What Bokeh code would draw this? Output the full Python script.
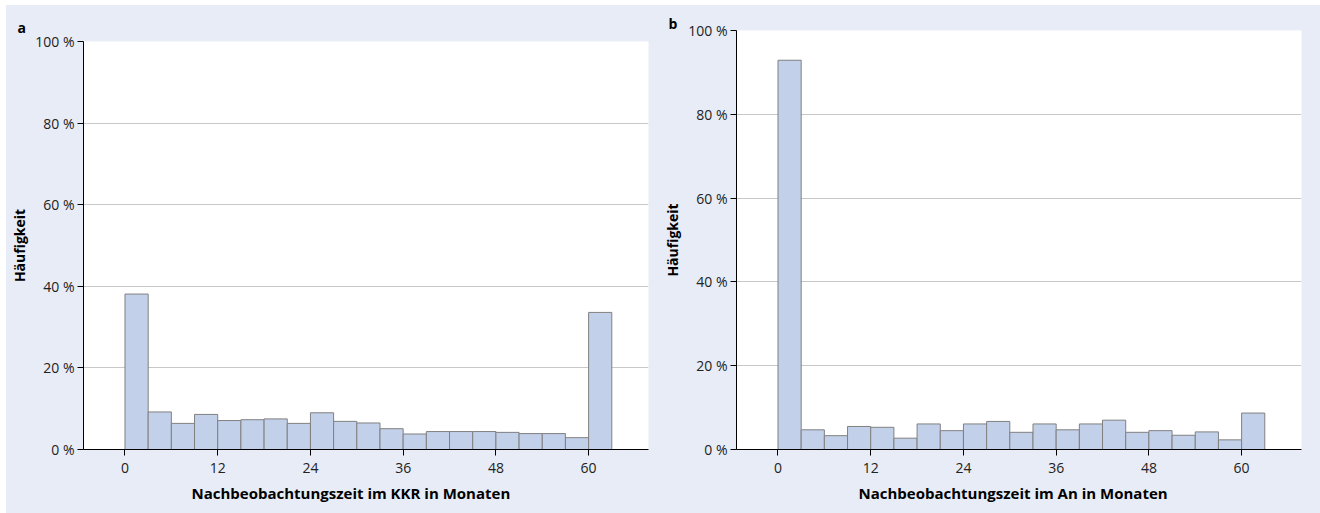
from bokeh.plotting import figure
from bokeh.layouts import row, column, Spacer
from bokeh.models import Range1d, FixedTicker, PrintfTickFormatter, Title
from bokeh.embed import file_html
from bokeh.resources import INLINE

# ---- data ----
bin_start = [0, 3, 6, 9, 12, 15, 18, 21, 24, 27, 30, 33, 36, 39, 42, 45, 48, 51, 54, 57, 60]
bin_width = 3
pct_kkr = [38.1, 9.2, 6.4, 8.6, 7.1, 7.3, 7.5, 6.4, 9.0, 6.9, 6.5, 5.1, 3.8, 4.4, 4.4, 4.4, 4.2, 3.9, 3.9, 2.9, 33.6]
pct_an = [92.9, 4.7, 3.3, 5.5, 5.3, 2.7, 6.1, 4.5, 6.1, 6.7, 4.1, 6.1, 4.7, 6.1, 7.0, 4.1, 4.5, 3.4, 4.2, 2.3, 8.7]
x_ticks = [0, 12, 24, 36, 48, 60]
y_ticks = [0, 20, 40, 60, 80, 100]
panel_letters = ["a", "b"]
x_titles = ["Nachbeobachtungszeit im KKR in Monaten", "Nachbeobachtungszeit im An in Monaten"]
y_title = "Häufigkeit"

BG = "#e8ecf6"
BAR = "#c3d0ea"
EDGE = "#808080"
FONT = "Open Sans"
H = 508


def make_panel(values, letter, xtitle, width, top, left, right, frame_h,
               letter_offset, letter_standoff, xtitle_offset):
    bottom = H - top - frame_h
    p = figure(width=width, height=H, output_backend="svg", toolbar_location=None,
               x_range=Range1d(-5.37, 67.75), y_range=Range1d(0, 100),
               min_border_left=left, min_border_right=right,
               min_border_top=top, min_border_bottom=bottom)
    p.background_fill_color = "white"
    p.border_fill_color = BG
    p.outline_line_color = None
    right_edges = [s + bin_width for s in bin_start]
    p.quad(left=bin_start, right=right_edges, bottom=0, top=values,
           fill_color=BAR, line_color=EDGE, line_width=1)

    p.xgrid.grid_line_color = None
    p.ygrid.grid_line_color = "#c8c8c8"
    p.ygrid.grid_line_width = 1
    p.ygrid.ticker = FixedTicker(ticks=y_ticks)

    for ax in (p.xaxis[0], p.yaxis[0]):
        ax.axis_line_color = "black"
        ax.axis_line_width = 1
        ax.major_tick_line_color = "black"
        ax.major_tick_in = 0
        ax.major_tick_out = 6
        ax.minor_tick_line_color = None
        ax.major_label_text_font = FONT
        ax.major_label_text_font_size = "14px"
        ax.major_label_text_color = "#222222"
        ax.axis_label_text_font = FONT
        ax.axis_label_text_font_style = "bold"
        ax.axis_label_text_font_size = "14px"
        ax.axis_label_text_color = "black"
    p.xaxis.ticker = FixedTicker(ticks=x_ticks)
    p.xaxis.major_label_standoff = 7
    p.yaxis.ticker = FixedTicker(ticks=y_ticks)
    p.yaxis.formatter = PrintfTickFormatter(format="%d %%")
    p.yaxis.major_label_standoff = 3
    p.yaxis.axis_label = y_title
    p.yaxis.axis_label_standoff = 3

    p.title.text = letter
    p.title.align = "left"
    p.title.offset = letter_offset
    p.title.standoff = letter_standoff
    p.title.text_font = FONT
    p.title.text_font_style = "bold"
    p.title.text_font_size = "14px"
    p.title.text_color = "black"

    p.add_layout(Title(text=xtitle, align="left", offset=xtitle_offset, standoff=11,
                       text_font=FONT, text_font_style="bold", text_font_size="15px",
                       text_color="black"), "below")
    return p


pa = make_panel(pct_kkr, panel_letters[0], x_titles[0], 653, 36, 77, 11, 408, -66, 10, 108)
pb = make_panel(pct_an, panel_letters[1], x_titles[1], 661, 25, 77, 19, 419, -68, -4, 122)

inner = row(column(pa), column(pb), spacing=0, styles={"background-color": BG})
layout = column(Spacer(width=1320, height=5),
                row(Spacer(width=6, height=H), inner, spacing=0),
                spacing=0)
open("out.html", "w").write(file_html(layout, INLINE))
